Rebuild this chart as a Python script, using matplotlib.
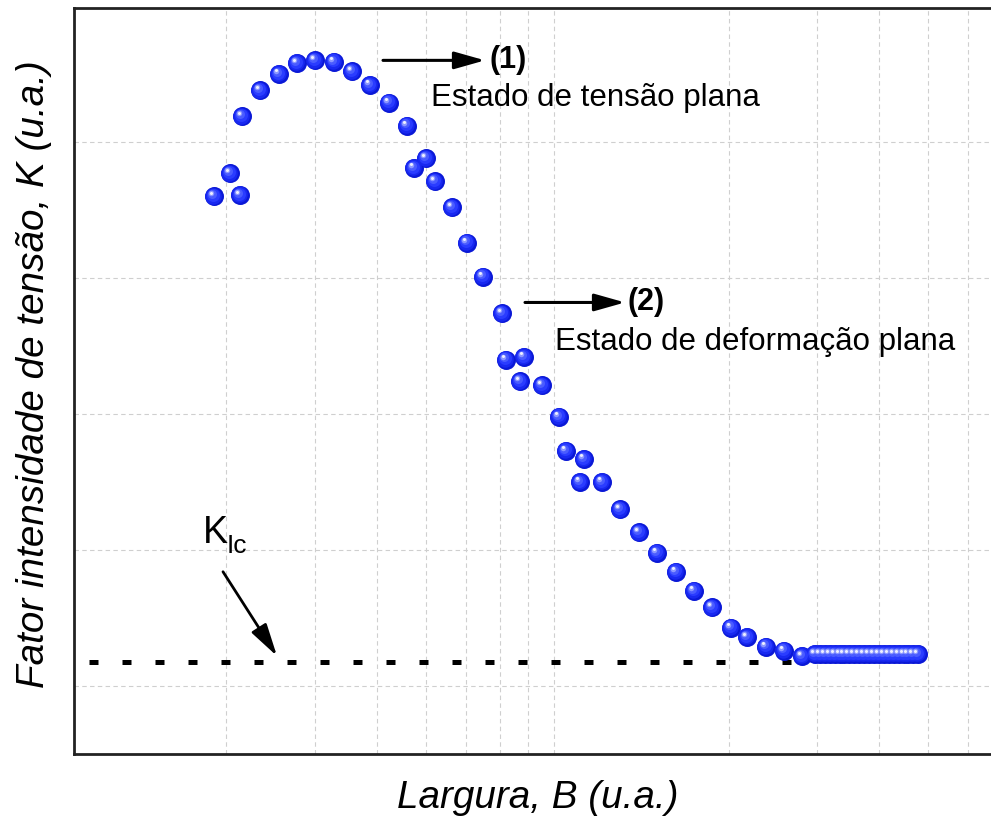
import matplotlib
matplotlib.use("Agg")
import matplotlib.pyplot as plt
from matplotlib.transforms import offset_copy

plt.rcParams["font.family"] = ["Liberation Sans", "DejaVu Sans"]

# Measured K versus width B (arbitrary units)
largura = [1.40, 1.56, 1.66, 1.68, 1.86, 2.05, 2.23, 2.41, 2.60, 2.78, 2.96,
           3.15, 3.33, 3.40, 3.52, 3.61, 3.78, 3.93, 4.09, 4.28, 4.32, 4.50,
           4.46, 4.68, 4.85, 4.92, 5.10, 5.06, 5.28, 5.46, 5.65, 5.83, 6.02,
           6.20, 6.38, 6.57, 6.73, 6.92, 7.10, 7.28,
           7.41, 7.46, 7.51, 7.56, 7.61, 7.66, 7.70, 7.75, 7.80, 7.85, 7.90,
           7.95, 8.00, 8.05, 8.10, 8.15, 8.20, 8.25, 8.30, 8.34, 8.39, 8.44]
fator_k = [3.60, 3.77, 3.61, 4.19, 4.38, 4.50, 4.58, 4.60, 4.59, 4.52, 4.42,
           4.29, 4.12, 3.81, 3.88, 3.71, 3.52, 3.26, 3.01, 2.74, 2.40, 2.42,
           2.24, 2.21, 1.98, 1.73, 1.67, 1.50, 1.50, 1.30, 1.13, 0.98, 0.84,
           0.70, 0.58, 0.43, 0.36, 0.29, 0.26, 0.22,
           0.235, 0.235, 0.235, 0.235, 0.235, 0.235, 0.235, 0.235, 0.235,
           0.235, 0.235, 0.235, 0.235, 0.235, 0.235, 0.235, 0.235, 0.235,
           0.235, 0.235, 0.235, 0.235]

k_ic = 0.18
k_ic_span = [0.15, 7.21]

grid_x = [1.52, 2.41, 3.03, 3.52, 3.92, 4.26, 4.54, 4.80, 6.55, 7.43, 8.05, 8.54, 8.94]
grid_y = [0, 1, 2, 3, 4]

W, H = 991, 821
fig = plt.figure(figsize=(W / 100, H / 100), dpi=100)
ax = fig.add_axes([74 / W, (H - 754) / H, 920 / W, 746 / H])
ax.set_xlim(0, 9.2)
ax.set_ylim(-0.5, 4.985)

# light dashed grid
for gx in grid_x:
    ax.axvline(gx, color="#cfcfcf", lw=0.8, ls=(0, (4, 3)), zorder=0)
for gy in grid_y:
    ax.axhline(gy, color="#cfcfcf", lw=0.8, ls=(0, (4, 3)), zorder=0)

ax.set_xticks([])
ax.set_yticks([])
for side in ("left", "bottom", "top"):
    ax.spines[side].set_linewidth(2.0)
    ax.spines[side].set_color("#222222")
ax.spines["right"].set_visible(False)

# K_Ic level
ax.plot(k_ic_span, [k_ic, k_ic], color="black", lw=3.6,
        ls=(0, (1.8, 4.8)), solid_capstyle="butt", zorder=2)

# shaded spheres: layered circles shifted toward the light source
layers = [
    (19, "#0a18d6", 0, 0),
    (16.5, "#1828f0", -0.6, 0.6),
    (13, "#2a3cff", -1.3, 1.3),
    (9, "#4a5cff", -2.2, 2.2),
    (5.5, "#8c98ff", -3.0, 3.0),
    (3, "#eef0ff", -3.5, 3.5),
]
for i, (d, c, dx, dy) in enumerate(layers):
    tr = offset_copy(ax.transData, fig=fig, x=dx, y=dy, units="dots")
    size_pt = d * 72 / 100
    ax.scatter(largura, fator_k, s=size_pt ** 2, c=c, linewidths=0,
               transform=tr, zorder=3 + i)

arrow_kw = dict(arrowstyle="-|>,head_length=0.85,head_width=0.24",
                color="black", lw=2.2, mutation_scale=22, shrinkA=0, shrinkB=0)

ax.annotate("", xy=(4.11, 4.60), xytext=(3.09, 4.60), arrowprops=arrow_kw, zorder=10)
ax.text(4.15, 4.60, "(1)", fontsize=22, fontweight="bold", va="center", ha="left")
ax.text(3.57, 4.32, "Estado de tensão plana", fontsize=22.5, va="center", ha="left")

ax.annotate("", xy=(5.51, 2.82), xytext=(4.51, 2.82), arrowprops=arrow_kw, zorder=10)
ax.text(5.53, 2.82, "(2)", fontsize=22, fontweight="bold", va="center", ha="left")
ax.text(4.81, 2.53, "Estado de deformação plana", fontsize=22.5, va="center", ha="left")

ax.annotate("", xy=(2.03, 0.22), xytext=(1.49, 0.84),
            arrowprops=dict(arrowstyle="-|>,head_length=0.9,head_width=0.24",
                            color="black", lw=2.0, mutation_scale=22,
                            shrinkA=0, shrinkB=0), zorder=10)
ax.text(1.29, 1.05, "K", fontsize=27, va="baseline", ha="left")
ax.text(1.53, 0.98, "Ic", fontsize=19, va="baseline", ha="left")

fig.text(34 / W, 1 - 374 / H, "Fator intensidade de tensão, K (u.a.)",
         rotation=90, fontsize=27.8, style="italic", ha="center", va="center")
fig.text(538 / W, 1 - 798 / H, "Largura, B (u.a.)",
         fontsize=27.8, style="italic", ha="center", va="center")

fig.savefig("out.png", dpi=100)
